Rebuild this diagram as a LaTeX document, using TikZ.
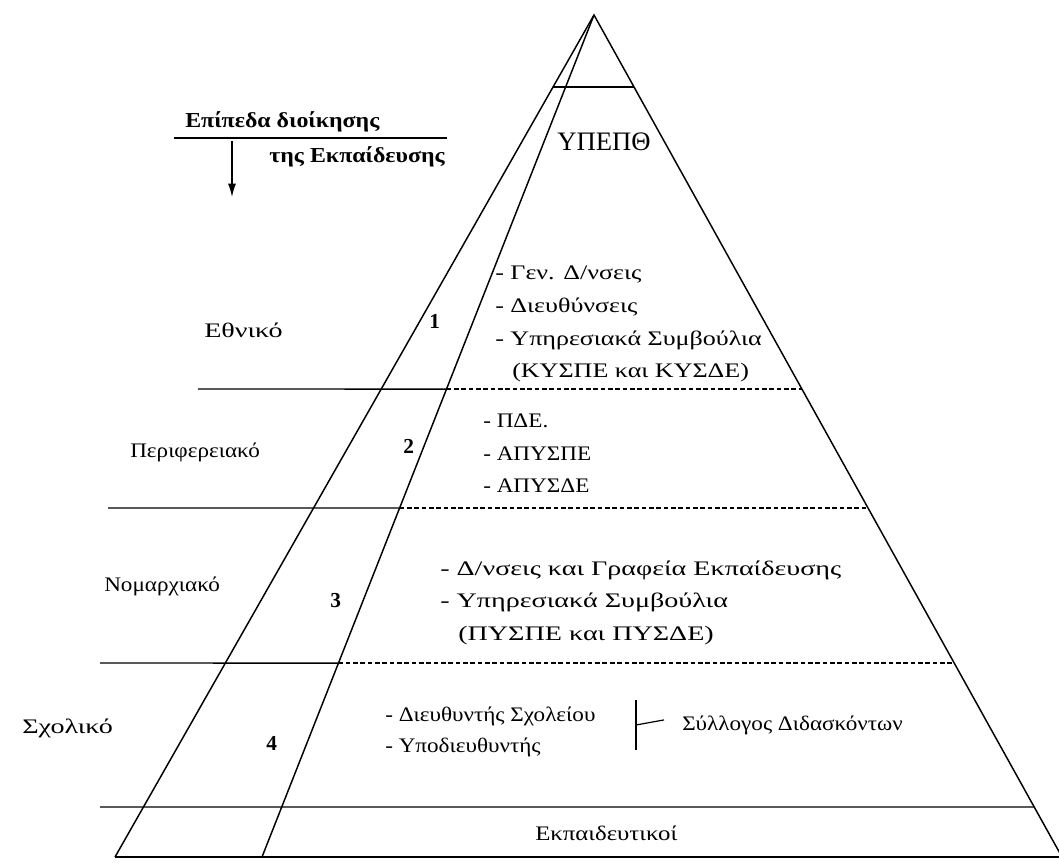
\documentclass[tikz,border=0pt]{standalone}
\usepackage{fontspec}
\setmainfont{Liberation Serif}
\newfontfamily\fA{Liberation Serif}
\newfontfamily\fB[FakeStretch=1.12]{Liberation Serif}
\newfontfamily\fBB[FakeStretch=1.2]{Liberation Serif}
\newfontfamily\fC[FakeStretch=1.26]{Liberation Serif}
\newfontfamily\fD[FakeStretch=1.36]{Liberation Serif}
\usetikzlibrary{calc,arrows.meta}
\tikzset{
  txt/.style={inner sep=0pt, anchor=base west, font=\fC\fontsize{15.5}{18}\selectfont},
  wA/.style={font=\fA\fontsize{15.5}{18}\selectfont},
  wB/.style={font=\fB\fontsize{15.5}{18}\selectfont},
  wBB/.style={font=\fBB\fontsize{15.5}{18}\selectfont},
  wC/.style={font=\fC\fontsize{15.5}{18}\selectfont},
  wD/.style={font=\fD\fontsize{15.5}{18}\selectfont},
  num/.style={inner sep=0pt, anchor=base west, font=\fontsize{16}{18}\selectfont\bfseries},
  edgeln/.style={line width=1.1pt, black},
  dashln/.style={line width=0.9pt, black, dash pattern=on 3.5pt off 2pt},
}
\begin{document}
\begin{tikzpicture}[x=0.75pt,y=-0.75pt]
\useasboundingbox (0,0) rectangle (1059,864);
\clip (0,0) rectangle (1059,864);
\fill[white] (0,0) rectangle (1059,864);
% pyramid
\coordinate (A) at (594,15);
\coordinate (BL) at (115,857);
\coordinate (BI) at (262,857);
\coordinate (BR) at (1062,857);
\draw[edgeln] (BL) -- (A) -- (BR);
\draw[edgeln] (A) -- (BI);
\draw[edgeln] ($(A)!0.0855!(BL)$) -- ($(A)!0.0855!(BR)$);
% level lines
\coordinate (L1s) at (198,389);
\coordinate (L2s) at (108,508);
\coordinate (L3s) at (100,663);
\coordinate (L4s) at (100,807);
\draw[edgeln] (L1s) -- ($(A)!0.4442!(BI)$);
\draw[dashln] ($(A)!0.4442!(BI)$) -- ($(A)!0.4442!(BR)$);
\draw[edgeln] (L2s) -- ($(A)!0.5855!(BI)$);
\draw[dashln] ($(A)!0.5855!(BI)$) -- ($(A)!0.5855!(BR)$);
\draw[edgeln] (L3s) -- ($(A)!0.7696!(BI)$);
\draw[dashln] ($(A)!0.7696!(BI)$) -- ($(A)!0.7696!(BR)$);
\draw[edgeln] (L4s) -- ($(A)!0.9406!(BR)$);
\draw[edgeln] (BL) -- (1059,857);
% header
\node[txt, font=\fB\fontsize{16}{19}\selectfont\bfseries] (h1) at (185,127) {Επίπεδα διοίκησης};
\node[txt, font=\fB\fontsize{16}{19}\selectfont\bfseries, anchor=base east] (h2) at (445,162) {της Εκπαίδευσης};
\coordinate (hl1) at (174,138);
\coordinate (hl2) at (447,138);
\draw[line width=1pt] (hl1) -- (hl2);
\coordinate (ar1) at (232,141);
\coordinate (ar2) at (232,197);
\draw[line width=1pt, -{Latex[length=10pt,width=6pt]}] (ar1) -- (ar2);
% top
\node[txt, font=\fA\fontsize{20}{22}\selectfont] (yp) at (557,150) {ΥΠΕΠΘ};
% level 1
\node[txt, wD] (ethn) at (204,337) {Εθνικό};
\node[num] (n1) at (429,328) {1};
\node[txt, wC] (a1) at (495,279) {- Γεν. Δ/νσεις};
\node[txt, wC] (a2) at (495,312) {- Διευθύνσεις};
\node[txt, wC] (a3) at (495,345) {- Υπηρεσιακά Συμβούλια};
\node[txt, wC] (a4) at (512,377) {(ΚΥΣΠΕ και ΚΥΣΔΕ)};
% level 2
\node[txt, wB] (per) at (130,457) {Περιφερειακό};
\node[num] (n2) at (403,453) {2};
\node[txt, wB] (b1) at (483,427) {- ΠΔΕ.};
\node[txt, wB] (b2) at (483,460) {- ΑΠΥΣΠΕ};
\node[txt, wB] (b3) at (483,492) {- ΑΠΥΣΔΕ};
% level 3
\node[txt, wB] (nom) at (104,591) {Νομαρχιακό};
\node[num] (n3) at (330,607) {3};
\node[txt, wD] (c1) at (440,575) {- Δ/νσεις και Γραφεία Εκπαίδευσης};
\node[txt, wD] (c2) at (440,607) {- Υπηρεσιακά Συμβούλια};
\node[txt, wD] (c3) at (458,640) {(ΠΥΣΠΕ και ΠΥΣΔΕ)};
% level 4
\node[txt, wD] (sch) at (22,733) {Σχολικό};
\node[num] (n4) at (266,750) {4};
\node[txt, wB] (d1) at (385,721) {- Διευθυντής Σχολείου};
\node[txt, wB] (d2) at (385,752) {- Υποδιευθυντής};
\node[txt, wB] (syl) at (682,730) {Σύλλογος Διδασκόντων};
\coordinate (br1) at (636,700);
\coordinate (br2) at (636,750);
\coordinate (br3) at (636,725);
\draw[line width=0.9pt] (br1) -- (br2);
\draw[line width=0.9pt] (br3) -- ($(syl.west)+(-18,-5)$);
% bottom
\node[txt, wBB] (ekp) at (535,840) {Εκπαιδευτικοί};
\end{tikzpicture}
\end{document}
